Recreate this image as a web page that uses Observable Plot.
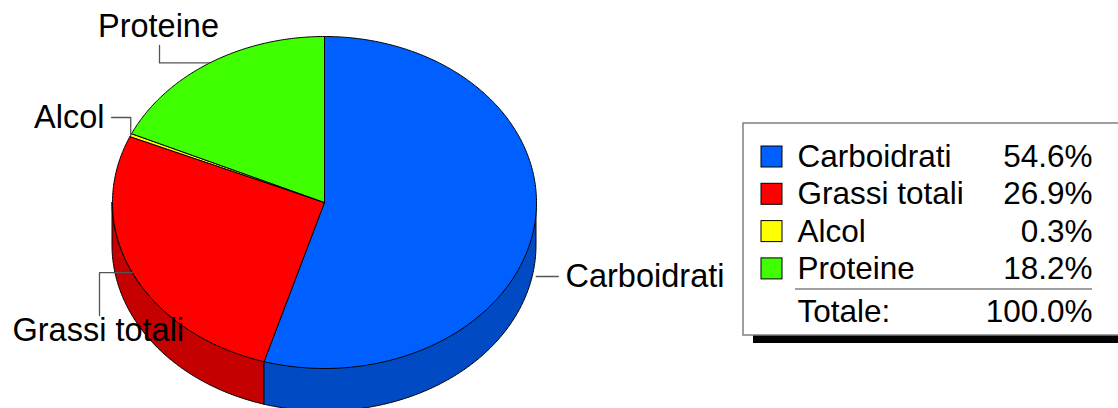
<!DOCTYPE html>
<html>
<head>
<meta charset="utf-8">
<script src="https://cdn.jsdelivr.net/npm/d3@7"></script>
<script src="https://cdn.jsdelivr.net/npm/@observablehq/plot@0.6"></script>
<style>
  html, body { margin: 0; padding: 0; background: #fff; }
  #chart svg { display: block; }
</style>
</head>
<body>
<div id="chart"></div>
<script>
// ---- data ----
const categories = ["Carboidrati", "Grassi totali", "Alcol", "Proteine"];
const values = [54.6, 26.9, 0.3, 18.2];
const totalLabel = "Totale:";
const totalValue = 100.0;

// ---- styles / layout ----
const W = 1118, H = 408;
const topColors = ["#0060FF", "#FF0000", "#FFFF00", "#40FF00"];
const sideColors = ["#004BC4", "#C40000", "#C4C400", "#30C400"];
const cx = 324, cy = 202, rx = 212, ry = 166, depth = 43;
const font = "'Liberation Sans', Arial, Helvetica, sans-serif";
const fs = 31.5;
const fsPie = 32.5;

const rad = d => d * Math.PI / 180;
const px = t => cx + rx * Math.sin(rad(t));
const py = t => cy - ry * Math.cos(rad(t));

function arc(a0, a1) {
  const n = Math.max(2, Math.ceil((a1 - a0) / 0.5));
  const pts = [];
  for (let i = 0; i <= n; i++) {
    const t = a0 + (a1 - a0) * i / n;
    pts.push({t, x: px(t), y: py(t)});
  }
  return pts;
}

const sum = d3.sum(values);
let acc = 0;
const slices = categories.map((c, i) => {
  const a0 = acc / sum * 360;
  acc += values[i];
  const a1 = acc / sum * 360;
  return {c, i, v: values[i], a0, a1, mid: (a0 + a1) / 2};
});

const marks = [];

// side faces (front half: 90..270 degrees)
for (const s of slices) {
  const b0 = Math.max(s.a0, 90), b1 = Math.min(s.a1, 270);
  if (b1 <= b0) continue;
  const pts = arc(b0, b1).map(p => ({x: p.x, y1: p.y, y2: p.y + depth}));
  marks.push(Plot.area(pts, {x1: "x", y1: "y1", y2: "y2", fill: sideColors[s.i], stroke: "black", strokeWidth: 1}));
}

// top wedges
for (const s of slices) {
  const pts = [{x: cx, y: cy}, ...arc(s.a0, s.a1), {x: cx, y: cy}];
  marks.push(Plot.line(pts, {x: "x", y: "y", fill: topColors[s.i], stroke: "black", strokeWidth: 1, strokeLinejoin: "miter"}));
}

// leader lines + labels (layout per label)
const labelLayout = {
  "Carboidrati":   {path: a => [[a.x + 2, 276], [a.x + 24, 276]], tx: 565, ty: 276, anchor: "start"},
  "Grassi totali": {path: a => [[a.x, a.y], [99, a.y], [99, 315]], tx: 12, ty: 330, anchor: "start"},
  "Alcol":         {path: a => [[a.x, a.y], [a.x, 117], [111, 117]], tx: 104, ty: 117, anchor: "end"},
  "Proteine":      {path: a => [[a.x, a.y], [159, a.y], [159, 45]], tx: 158, ty: 26, anchor: "middle"}
};
const leaders = [];
const labels = [];
for (const s of slices) {
  const L = labelLayout[s.c];
  const a = {x: px(s.mid), y: py(s.mid)};
  L.path(a).forEach(([x, y]) => leaders.push({c: s.c, x, y}));
  labels.push({c: s.c, x: L.tx, y: L.ty, anchor: L.anchor});
}
marks.push(Plot.line(leaders, {x: "x", y: "y", z: "c", stroke: "#555", strokeWidth: 1.3}));
for (const anchor of ["start", "end", "middle"]) {
  marks.push(Plot.text(labels.filter(d => d.anchor === anchor), {
    x: "x", y: "y", text: "c", textAnchor: anchor, lineAnchor: "middle",
    fontSize: fsPie, fill: "black"
  }));
}

// legend
const lg = {x1: 743, x2: 1125, y1: 123, y2: 335, sx: 10, sy: 8};
marks.push(Plot.rect([lg], {x1: d => d.x1 + d.sx, x2: d => d.x2 + d.sx, y1: d => d.y1 + d.sy, y2: d => d.y2 + d.sy, fill: "black"}));
marks.push(Plot.rect([lg], {x1: "x1", x2: "x2", y1: "y1", y2: "y2", fill: "white", stroke: "#808080", strokeWidth: 1.5}));
const rowY = i => 156.5 + i * 37.3;
const rows = slices.map(s => ({c: s.c, i: s.i, y: rowY(s.i), pct: s.v.toFixed(1) + "%"}));
marks.push(Plot.rect(rows, {x1: 761, x2: 782, y1: d => d.y - 10.5, y2: d => d.y + 10.5, fill: d => topColors[d.i], stroke: "black", strokeWidth: 1}));
marks.push(Plot.text(rows, {x: 797, y: "y", text: "c", textAnchor: "start", lineAnchor: "middle", fontSize: fs, fill: "black"}));
marks.push(Plot.text(rows, {x: 1092, y: "y", text: "pct", textAnchor: "end", lineAnchor: "middle", fontSize: fs, fill: "black"}));
marks.push(Plot.ruleY([{y: 288.5, x1: 795, x2: 1092}], {y: "y", x1: "x1", x2: "x2", stroke: "#808080", strokeWidth: 1.3}));
const totalRow = [{label: totalLabel, pct: totalValue.toFixed(1) + "%", y: 311}];
marks.push(Plot.text(totalRow, {x: 797, y: "y", text: "label", textAnchor: "start", lineAnchor: "middle", fontSize: fs, fill: "black"}));
marks.push(Plot.text(totalRow, {x: 1092, y: "y", text: "pct", textAnchor: "end", lineAnchor: "middle", fontSize: fs, fill: "black"}));

const chart = Plot.plot({
  width: W, height: H, margin: 0,
  x: {domain: [0, W], range: [0, W], axis: null},
  y: {domain: [0, H], range: [0, H], axis: null},
  style: {fontFamily: font, background: "white", overflow: "hidden"},
  marks
});
document.getElementById("chart").appendChild(chart);
</script>
</body>
</html>
